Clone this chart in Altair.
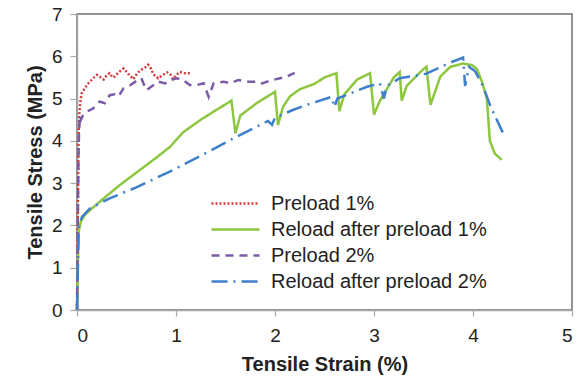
import altair as alt
import pandas as pd

series_names = ["Preload 1%", "Reload after preload 1%", "Preload 2%", "Reload after preload 2%"]
series_colors = ["#d23c3c", "#8dc63f", "#7b5aa6", "#3f7fcb"]
series_dashes = [[2, 2], [1, 0], [8, 6], [16, 6, 2, 6]]

x_ticks = [0, 1, 2, 3, 4, 5]
y_ticks = [0, 1, 2, 3, 4, 5, 6, 7]

pre1_strain = [0, 0.004, 0.008, 0.012, 0.016, 0.022, 0.035, 0.047, 0.08, 0.115, 0.15, 0.2, 0.24, 0.27,
               0.3, 0.33, 0.36, 0.38, 0.42, 0.47, 0.52, 0.57, 0.61, 0.64, 0.68, 0.72, 0.75, 0.77, 0.82,
               0.87, 0.91, 0.94, 0.97, 1.0, 1.04, 1.09, 1.14]
pre1_stress = [0, 1.0, 2.2, 3.3, 4.1, 4.6, 4.95, 5.12, 5.25, 5.36, 5.45, 5.56, 5.5, 5.45,
               5.55, 5.6, 5.5, 5.52, 5.62, 5.71, 5.58, 5.46, 5.6, 5.67, 5.72, 5.8, 5.7, 5.58, 5.48,
               5.56, 5.62, 5.58, 5.46, 5.55, 5.63, 5.6, 5.6]

rel1_strain = [0, 0.005, 0.01, 0.015, 0.02, 0.04, 0.08, 0.13, 0.25, 0.43, 0.6, 0.8, 0.94, 1.07,
               1.25, 1.4, 1.56, 1.6, 1.65, 1.82, 2.0, 2.03, 2.08, 2.15, 2.25, 2.4, 2.5, 2.62, 2.65,
               2.7, 2.83, 2.96, 3.0, 3.06, 3.2, 3.26, 3.28, 3.33, 3.5, 3.53, 3.57, 3.67, 3.77, 3.9,
               3.99, 4.04, 4.09, 4.14, 4.17, 4.22, 4.29]
rel1_stress = [0, 0.5, 1.2, 1.7, 1.9, 2.1, 2.25, 2.36, 2.6, 2.95, 3.25, 3.6, 3.86, 4.2,
               4.5, 4.72, 4.95, 4.18, 4.6, 4.9, 5.16, 4.37, 4.8, 5.05, 5.22, 5.35, 5.5, 5.6, 4.7,
               5.1, 5.45, 5.6, 4.62, 4.95, 5.5, 5.63, 4.95, 5.3, 5.7, 5.75, 4.85, 5.52, 5.75, 5.83,
               5.79, 5.7, 5.4, 5.0, 4.0, 3.7, 3.55]

pre2_strain = [0, 0.004, 0.008, 0.012, 0.016, 0.022, 0.03, 0.04, 0.06, 0.1, 0.165, 0.2, 0.23, 0.28,
               0.33, 0.38, 0.42, 0.47, 0.54, 0.59, 0.65, 0.7, 0.75, 0.82, 0.89, 0.94, 1.01, 1.07,
               1.14, 1.21, 1.28, 1.33, 1.38, 1.48, 1.55, 1.63, 1.73, 1.82, 1.87, 1.92, 1.98, 2.05,
               2.12, 2.18, 2.2]
pre2_stress = [0, 1.0, 2.0, 3.0, 3.8, 4.3, 4.6, 4.5, 4.6, 4.69, 4.77, 4.88, 4.93, 4.89,
               5.08, 5.1, 5.05, 5.24, 5.32, 5.4, 5.48, 5.2, 5.28, 5.4, 5.36, 5.44, 5.48, 5.44,
               5.32, 5.32, 5.36, 5.04, 5.36, 5.4, 5.36, 5.44, 5.4, 5.4, 5.36, 5.4, 5.44, 5.48,
               5.52, 5.59, 5.6]

rel2_strain = [0, 0.005, 0.01, 0.015, 0.02, 0.05, 0.13, 0.33, 0.6, 0.97, 1.31, 1.58, 1.93, 1.97,
               2.0, 2.18, 2.32, 2.57, 2.6, 2.63, 2.76, 2.93, 3.06, 3.1, 3.13, 3.26, 3.46, 3.53,
               3.65, 3.77, 3.9, 3.92, 3.96, 4.02, 4.1, 4.18, 4.3]
rel2_stress = [0, 0.5, 1.2, 1.7, 1.95, 2.2, 2.4, 2.64, 2.9, 3.31, 3.72, 4.06, 4.47, 4.38,
               4.55, 4.73, 4.85, 5.04, 4.8, 5.0, 5.12, 5.28, 5.36, 5.0, 5.3, 5.48, 5.56, 5.59,
               5.72, 5.85, 5.97, 5.3, 5.75, 5.65, 5.3, 4.8, 4.2]

series_data = [
    (series_names[0], pre1_strain, pre1_stress),
    (series_names[1], rel1_strain, rel1_stress),
    (series_names[2], pre2_strain, pre2_stress),
    (series_names[3], rel2_strain, rel2_stress),
]

rows = []
for name, xs, ys in series_data:
    for i, (xv, yv) in enumerate(zip(xs, ys)):
        rows.append({"series": name, "strain": xv, "stress": yv, "idx": i})
df = pd.DataFrame(rows)

FONT = "Liberation Sans"

legend_def = alt.Legend(
    title=None,
    orient="none",
    legendX=147,
    legendY=178,
    symbolType="M-2.4,0H2.4",
    symbolSize=400,
    symbolStrokeWidth=2.5,
    symbolFillColor="transparent",
    labelFont=FONT,
    labelFontSize=20,
    labelColor="#222222",
    labelOffset=24,
    labelLimit=400,
    rowPadding=4,
    padding=0,
)

chart = alt.Chart(df).mark_line(strokeWidth=2.5).encode(
    x=alt.X(
        "strain:Q",
        scale=alt.Scale(domain=[0, 5], nice=False, zero=False),
        axis=alt.Axis(
            values=x_ticks,
            title="Tensile Strain (%)",
            grid=False,
            tickSize=6,
            labelPadding=10,
            titleY=60,
            titleBaseline="alphabetic",
        ),
    ),
    y=alt.Y(
        "stress:Q",
        scale=alt.Scale(domain=[0, 7], nice=False),
        axis=alt.Axis(
            values=y_ticks,
            title="Tensile Stress (MPa)",
            grid=False,
            tickSize=7,
            labelPadding=8,
            titleX=-42,
            titleY=148,
            titleAngle=270,
            titleBaseline="middle",
            titleAlign="center",
        ),
    ),
    color=alt.Color("series:N", scale=alt.Scale(domain=series_names, range=series_colors), legend=legend_def),
    strokeDash=alt.StrokeDash("series:N", scale=alt.Scale(domain=series_names, range=series_dashes), legend=legend_def),
    order="idx:Q",
).properties(
    width=495,
    height=296,
    autosize=alt.AutoSizeParams(type="none"),
    padding={"left": 77, "top": 14, "right": 10, "bottom": 69},
).configure_view(
    stroke="#707070",
    strokeWidth=1.5,
).configure_axis(
    domainColor="#a8a8a8",
    domainWidth=1.5,
    tickColor="#a8a8a8",
    tickWidth=1.2,
    labelFont=FONT,
    labelFontSize=19,
    labelColor="#222222",
    titleFont=FONT,
    titleFontSize=20,
    titleFontWeight="bold",
    titleColor="#222222",
    zindex=1,
)

chart.save("out.html", embed_options={"renderer": "svg", "actions": False})
